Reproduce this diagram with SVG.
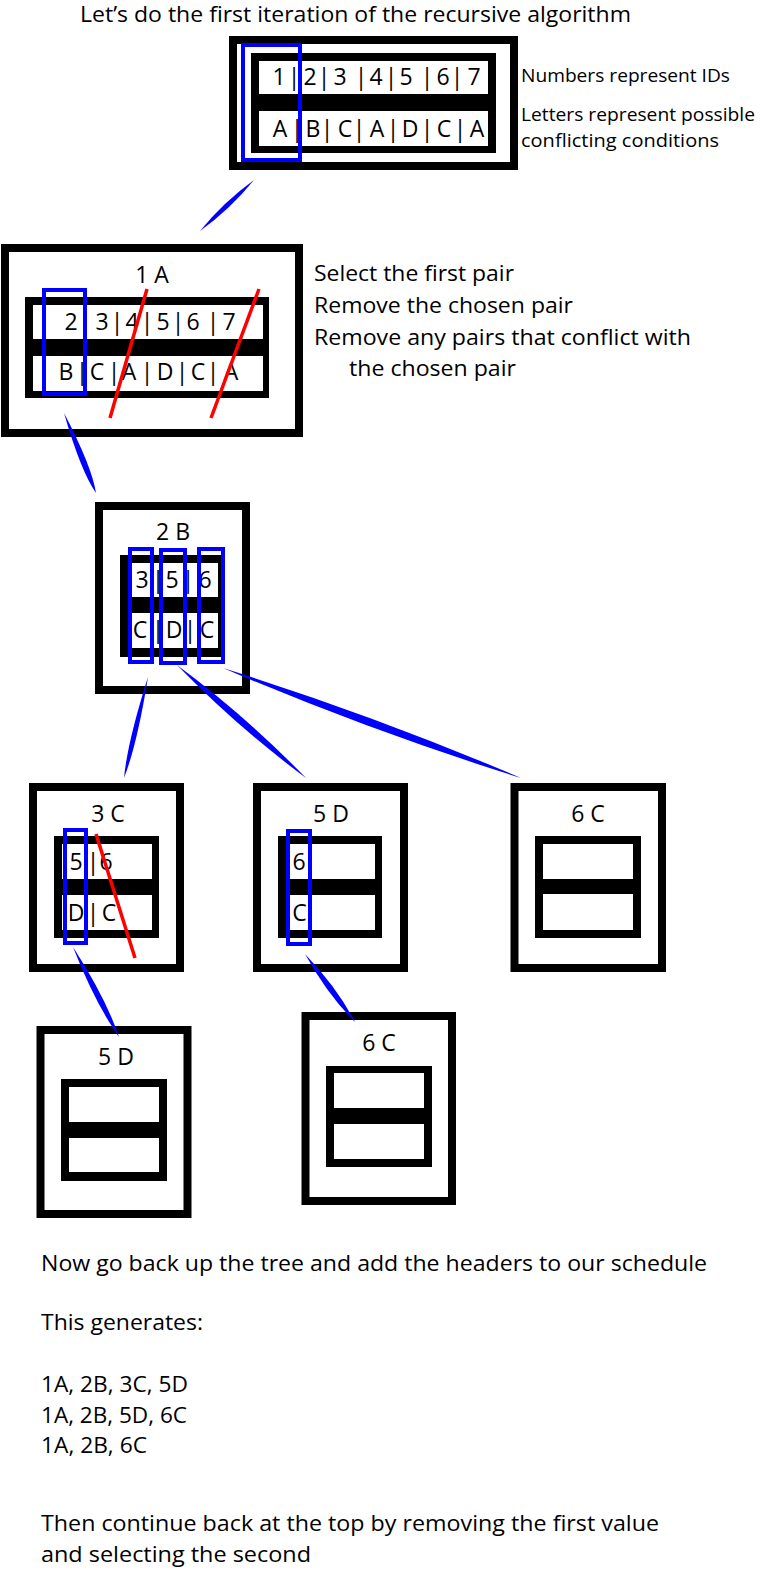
<svg xmlns="http://www.w3.org/2000/svg" width="761" height="1570" viewBox="0 0 761 1570">
<style>
.frame{fill:#fff;stroke:#000;stroke-width:8}
.inner{fill:#000}
.cell{fill:#fff}
.sel{fill:none;stroke:#0000ff;stroke-width:4}
.cut{stroke:#ff0000;stroke-width:3.5;stroke-linecap:butt}
.conn{fill:#0000ff}
text{font-family:"Open Sans","Noto Sans","DejaVu Sans",sans-serif;fill:#000}
.t{font-size:22px}
.s{font-size:17.5px}
.c{font-size:23px;text-anchor:middle}
</style>
<rect width="761" height="1570" fill="#fff"/>
<text class="t" x="80" y="22" textLength="551" lengthAdjust="spacingAndGlyphs">Let’s do the first iteration of the recursive algorithm</text>

<g id="node-root">
<rect class="frame" x="233" y="40" width="281" height="126"/>
<rect class="inner" x="251" y="53" width="245" height="100"/>
<rect class="cell" x="259" y="61" width="229" height="33"/>
<rect class="cell" x="259" y="111" width="229" height="35"/>
<text class="c" y="85"><tspan x="279">1</tspan><tspan x="294">|</tspan><tspan x="310">2</tspan><tspan x="324">|</tspan><tspan x="340">3</tspan><tspan x="361">|</tspan><tspan x="376">4</tspan><tspan x="391">|</tspan><tspan x="406">5</tspan><tspan x="427">|</tspan><tspan x="443">6</tspan><tspan x="457">|</tspan><tspan x="474">7</tspan></text>
<text class="c" y="137"><tspan x="280">A</tspan><tspan x="297">|</tspan><tspan x="313">B</tspan><tspan x="327">|</tspan><tspan x="345">C</tspan><tspan x="359">|</tspan><tspan x="377">A</tspan><tspan x="393">|</tspan><tspan x="410">D</tspan><tspan x="427">|</tspan><tspan x="444">C</tspan><tspan x="460">|</tspan><tspan x="477">A</tspan></text>
<rect class="sel" x="243" y="45" width="57" height="115"/>
<text class="s" x="521" y="82" textLength="209" lengthAdjust="spacingAndGlyphs">Numbers represent IDs</text>
<text class="s" x="521" y="121" textLength="234" lengthAdjust="spacingAndGlyphs">Letters represent possible</text>
<text class="s" x="521" y="147" textLength="198" lengthAdjust="spacingAndGlyphs">conflicting conditions</text>
</g>

<g id="node-1A">
<rect class="frame" x="5" y="248" width="294" height="185"/>
<text class="c" x="152" y="283">1 A</text>
<rect class="inner" x="25" y="297" width="244" height="101"/>
<rect class="cell" x="33" y="305" width="230" height="34"/>
<rect class="cell" x="33" y="356" width="230" height="35"/>
<text class="c" y="330"><tspan x="71">2</tspan><tspan x="102">3</tspan><tspan x="117">|</tspan><tspan x="132">4</tspan><tspan x="147">|</tspan><tspan x="163">5</tspan><tspan x="178">|</tspan><tspan x="193">6</tspan><tspan x="213">|</tspan><tspan x="229">7</tspan></text>
<text class="c" y="380"><tspan x="66">B</tspan><tspan x="82">|</tspan><tspan x="97">C</tspan><tspan x="114">|</tspan><tspan x="129">A</tspan><tspan x="147">|</tspan><tspan x="165">D</tspan><tspan x="182">|</tspan><tspan x="198">C</tspan><tspan x="213">|</tspan><tspan x="231">A</tspan></text>
<rect class="sel" x="44" y="290" width="41" height="104"/>
<line class="cut" x1="147" y1="289" x2="110" y2="418"/>
<line class="cut" x1="259" y1="289" x2="211" y2="418"/>
<text class="t" x="314" y="281" textLength="200" lengthAdjust="spacingAndGlyphs">Select the first pair</text>
<text class="t" x="314" y="313" textLength="259" lengthAdjust="spacingAndGlyphs">Remove the chosen pair</text>
<text class="t" x="314" y="345" textLength="377" lengthAdjust="spacingAndGlyphs">Remove any pairs that conflict with</text>
<text class="t" x="349" y="376" textLength="167" lengthAdjust="spacingAndGlyphs">the chosen pair</text>
</g>

<g id="node-2B">
<rect class="frame" x="99" y="506" width="147" height="184"/>
<text class="c" x="173" y="540">2 B</text>
<rect class="inner" x="120" y="555" width="105" height="102"/>
<rect class="cell" x="128" y="563" width="90" height="34"/>
<rect class="cell" x="128" y="613" width="90" height="35"/>
<text class="c" y="588"><tspan x="142">3</tspan><tspan x="158">|</tspan><tspan x="172">5</tspan><tspan x="188">|</tspan><tspan x="205">6</tspan></text>
<text class="c" y="638"><tspan x="140">C</tspan><tspan x="158">|</tspan><tspan x="174">D</tspan><tspan x="190">|</tspan><tspan x="207">C</tspan></text>
<rect class="sel" x="130" y="549" width="22" height="113"/>
<rect class="sel" x="161" y="550" width="24" height="113"/>
<rect class="sel" x="199" y="549" width="24" height="113"/>
</g>

<g id="node-3C">
<rect class="frame" x="33" y="787" width="147" height="181"/>
<text class="c" x="108" y="822">3 C</text>
<rect class="inner" x="54" y="836" width="105" height="102"/>
<rect class="cell" x="62" y="844" width="90" height="35"/>
<rect class="cell" x="62" y="895" width="90" height="35"/>
<text class="c" y="870"><tspan x="76">5</tspan><tspan x="93">|</tspan><tspan x="106">6</tspan></text>
<text class="c" y="921"><tspan x="76">D</tspan><tspan x="93">|</tspan><tspan x="109">C</tspan></text>
<rect class="sel" x="65" y="830" width="21" height="113"/>
<line class="cut" x1="96" y1="834" x2="135" y2="958"/>
</g>

<g id="node-5D">
<rect class="frame" x="257" y="787" width="147" height="181"/>
<text class="c" x="331" y="822">5 D</text>
<rect class="inner" x="278" y="836" width="104" height="102"/>
<rect class="cell" x="286" y="844" width="89" height="35"/>
<rect class="cell" x="286" y="895" width="89" height="35"/>
<text class="c" x="299" y="870">6</text>
<text class="c" x="299.5" y="921">C</text>
<rect class="sel" x="288" y="831" width="22" height="113"/>
</g>

<g id="node-6C">
<rect class="frame" x="514.5" y="787" width="147.5" height="181"/>
<text class="c" x="588" y="822">6 C</text>
<rect class="inner" x="535" y="836" width="106" height="102"/>
<rect class="cell" x="543" y="844" width="90" height="35"/>
<rect class="cell" x="543" y="894" width="90" height="36"/>
</g>

<g id="node-5D-leaf">
<rect class="frame" x="40.5" y="1030" width="147" height="184"/>
<text class="c" x="116" y="1065">5 D</text>
<rect class="inner" x="61" y="1079" width="106" height="102"/>
<rect class="cell" x="69" y="1087" width="90" height="35"/>
<rect class="cell" x="69" y="1138" width="90" height="34"/>
</g>

<g id="node-6C-leaf">
<rect class="frame" x="305.5" y="1016" width="146.5" height="185"/>
<text class="c" x="379" y="1051">6 C</text>
<rect class="inner" x="326" y="1066" width="106" height="101"/>
<rect class="cell" x="334" y="1073" width="90" height="35"/>
<rect class="cell" x="334" y="1124" width="90" height="35"/>
</g>

<g id="connectors">
<path class="conn" d="M254,180 Q230.4,209.1 200,231 Q223.6,201.9 254,180 Z"/>
<path class="conn" d="M64,413 Q92,466.8 96,493 Q80.8,471.2 64,413 Z"/>
<path class="conn" d="M148,677 Q137.3,743.9 124,778 Q127.5,741.5 148,677 Z"/>
<path class="conn" d="M177,665 Q246.1,716.2 306,778 Q236.9,726.8 177,665 Z"/>
<path class="conn" d="M223,668 Q374.8,715.5 521,778 Q369.2,730.5 223,668 Z"/>
<path class="conn" d="M73,947 Q106,998.3 119,1037 Q95.3,1003.7 73,947 Z"/>
<path class="conn" d="M305,954 Q337.3,987.8 355,1022 Q327.7,995 305,954 Z"/>
</g>

<g id="notes">
<text class="t" x="41" y="1271" textLength="666" lengthAdjust="spacingAndGlyphs">Now go back up the tree and add the headers to our schedule</text>
<text class="t" x="41" y="1330" textLength="162" lengthAdjust="spacingAndGlyphs">This generates:</text>
<text class="t" x="41" y="1392" textLength="147" lengthAdjust="spacingAndGlyphs">1A, 2B, 3C, 5D</text>
<text class="t" x="41" y="1423" textLength="146" lengthAdjust="spacingAndGlyphs">1A, 2B, 5D, 6C</text>
<text class="t" x="41" y="1453" textLength="106" lengthAdjust="spacingAndGlyphs">1A, 2B, 6C</text>
<text class="t" x="41" y="1531" textLength="618" lengthAdjust="spacingAndGlyphs">Then continue back at the top by removing the first value</text>
<text class="t" x="41" y="1562" textLength="270" lengthAdjust="spacingAndGlyphs">and selecting the second</text>
</g>
</svg>
